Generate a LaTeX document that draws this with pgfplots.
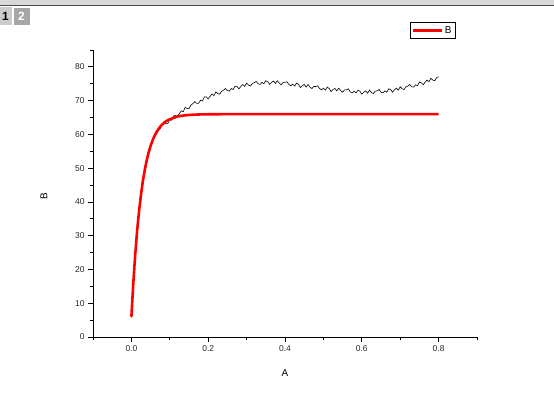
\documentclass[border=0pt]{standalone}
\usepackage{fontspec}
\setmainfont{Liberation Sans}
\usepackage{pgfplots}
\pgfplotsset{compat=1.18}
\begin{document}
\begin{tikzpicture}
\path[use as bounding box, fill=white] (-93bp,-65bp) rectangle (461bp,337bp);
% window chrome (Origin layer tabs)
\begin{scope}[shift={(-93bp,-65bp)}, x=1bp, y=1bp]
\fill[gray!30] (0,397) rectangle (554,402);
\draw[gray!60!black, line width=1bp] (0,397) -- (554,397);
\fill[gray!40] (0,377) rectangle (12,395);
\node[font=\bfseries\fontsize{12}{12}\selectfont] at (5.5,386) {1};
\fill[gray!70] (13,377) rectangle (30,395);
\draw[white, line width=0.8bp] (13,377) -- (13,395) -- (30,395);
\node[white, font=\bfseries\fontsize{12}{12}\selectfont] at (21.5,386) {2};
\end{scope}
\begin{axis}[
    scale only axis, width=384bp, height=287bp,
    xmin=-0.1, xmax=0.9, ymin=0, ymax=85,
    axis lines*=left,
    axis line style={black, line width=0.8bp},
    tick align=outside,
    major tick length=5bp, minor tick length=3bp,
    every tick/.style={black, line width=0.8bp},
    xtick={0,0.2,0.4,0.6,0.8},
    minor xtick={-0.1,0.1,0.3,0.5,0.7,0.9},
    ytick={0,10,20,30,40,50,60,70,80},
    minor ytick={5,15,25,35,45,55,65,75,85},
    xticklabel style={/pgf/number format/.cd, fixed, fixed zerofill, precision=1, assume math mode=true},
    yticklabel style={/pgf/number format/.cd, fixed, precision=0, assume math mode=true},
    tick label style={font=\fontsize{8.5}{9}\selectfont, text=black!85},
    xlabel={A}, ylabel={B},
    label style={font=\fontsize{10}{10}\selectfont},
    xlabel style={at={(axis description cs:0.5,-0.125)}, anchor=center},
    ylabel style={at={(axis description cs:-0.128,0.49)}, anchor=center},
    legend style={at={(axis description cs:0.945,1.098)}, anchor=north east,
        draw=black, line width=0.8bp, font=\fontsize{10}{10}\selectfont,
        inner sep=2bp, row sep=0pt},
    legend image code/.code={\draw[#1] (0cm,0cm) -- (1.0cm,0cm);},
    clip=false,
]
\addplot[black, line width=0.6bp, forget plot] coordinates {
(0,5.8) (0.005,15.8) (0.01,24.3) (0.015,31.4) (0.02,37.2) (0.025,42.0) (0.03,46.1)
(0.035,49.5) (0.04,52.2) (0.045,54.5) (0.05,56.3) (0.055,57.8) (0.06,59.2)
(0.065,60.1) (0.07,61.1) (0.075,61.7)
(0.080,62.8) (0.085,63.5) (0.090,63.1) (0.095,63.3) (0.100,64.3) (0.105,64.2)
(0.110,65.5) (0.115,65.6) (0.120,65.2) (0.125,66.2) (0.130,67.0) (0.135,66.7)
(0.140,68.0) (0.145,67.7) (0.150,67.6) (0.155,68.7) (0.160,69.1) (0.165,69.7)
(0.170,69.2) (0.175,69.2) (0.180,70.1) (0.185,69.9) (0.190,71.1) (0.195,71.1)
(0.200,70.5) (0.205,71.3) (0.210,72.0) (0.215,71.5) (0.220,72.6) (0.225,72.1)
(0.230,71.9) (0.235,72.8) (0.240,73.1) (0.245,73.6) (0.250,73.0) (0.255,72.8)
(0.260,73.6) (0.265,73.3) (0.270,74.3) (0.275,74.2) (0.280,73.5) (0.285,74.2)
(0.290,74.8) (0.295,74.2) (0.300,75.2) (0.305,74.6) (0.310,74.3) (0.315,75.1)
(0.320,75.3) (0.325,75.7) (0.330,75.0) (0.335,74.8) (0.340,75.4) (0.345,75.0)
(0.350,75.9) (0.355,75.6) (0.360,74.8) (0.365,75.4) (0.370,75.8) (0.375,75.1)
(0.380,75.9) (0.385,75.2) (0.390,74.7) (0.395,75.4) (0.400,75.4) (0.405,75.6)
(0.410,74.8) (0.415,74.4) (0.420,74.9) (0.425,74.3) (0.430,75.2) (0.435,74.8)
(0.440,73.9) (0.445,74.4) (0.450,74.8) (0.455,74.0) (0.460,74.8) (0.465,74.0)
(0.470,73.6) (0.475,74.2) (0.480,74.2) (0.485,74.4) (0.490,73.6) (0.495,73.2)
(0.500,73.7) (0.505,73.1) (0.510,74.0) (0.515,73.6) (0.520,72.7) (0.525,73.3)
(0.530,73.6) (0.535,72.9) (0.540,73.7) (0.545,73.0) (0.550,72.5) (0.555,73.2)
(0.560,73.2) (0.565,73.5) (0.570,72.6) (0.575,72.3) (0.580,72.8) (0.585,72.3)
(0.590,73.1) (0.595,72.8) (0.600,71.9) (0.605,72.5) (0.610,72.9) (0.615,72.2)
(0.620,73.1) (0.625,72.4) (0.630,72.1) (0.635,72.8) (0.640,72.9) (0.645,73.3)
(0.650,72.5) (0.655,72.3) (0.660,72.9) (0.665,72.5) (0.670,73.5) (0.675,73.3)
(0.680,72.5) (0.685,73.2) (0.690,73.7) (0.695,73.1) (0.700,74.1) (0.705,73.5)
(0.710,73.3) (0.715,74.1) (0.720,74.3) (0.725,74.8) (0.730,74.1) (0.735,74.0)
(0.740,74.7) (0.745,74.4) (0.750,75.5) (0.755,75.3) (0.760,74.7) (0.765,75.5)
(0.770,76.1) (0.775,75.6) (0.780,76.6) (0.785,76.1) (0.790,75.9) (0.795,76.8)
(0.800,77.1)
};
\addplot[red, line width=2.6bp] coordinates {
(0,6.0) (0.005,16.1) (0.01,24.5) (0.015,31.6) (0.02,37.4) (0.025,42.2)
(0.03,46.3) (0.035,49.6) (0.04,52.4) (0.045,54.7) (0.05,56.6) (0.055,58.2)
(0.06,59.5) (0.065,60.6) (0.07,61.5) (0.075,62.3) (0.08,62.9) (0.09,63.9)
(0.10,64.5) (0.11,64.9) (0.12,65.3) (0.13,65.5) (0.14,65.66) (0.16,65.84)
(0.18,65.92) (0.20,65.96) (0.25,66.0) (0.30,66.0) (0.40,66.0) (0.50,66.0)
(0.60,66.0) (0.70,66.0) (0.80,66.0)
};
\addlegendentry{B}
\end{axis}
\end{tikzpicture}
\end{document}
